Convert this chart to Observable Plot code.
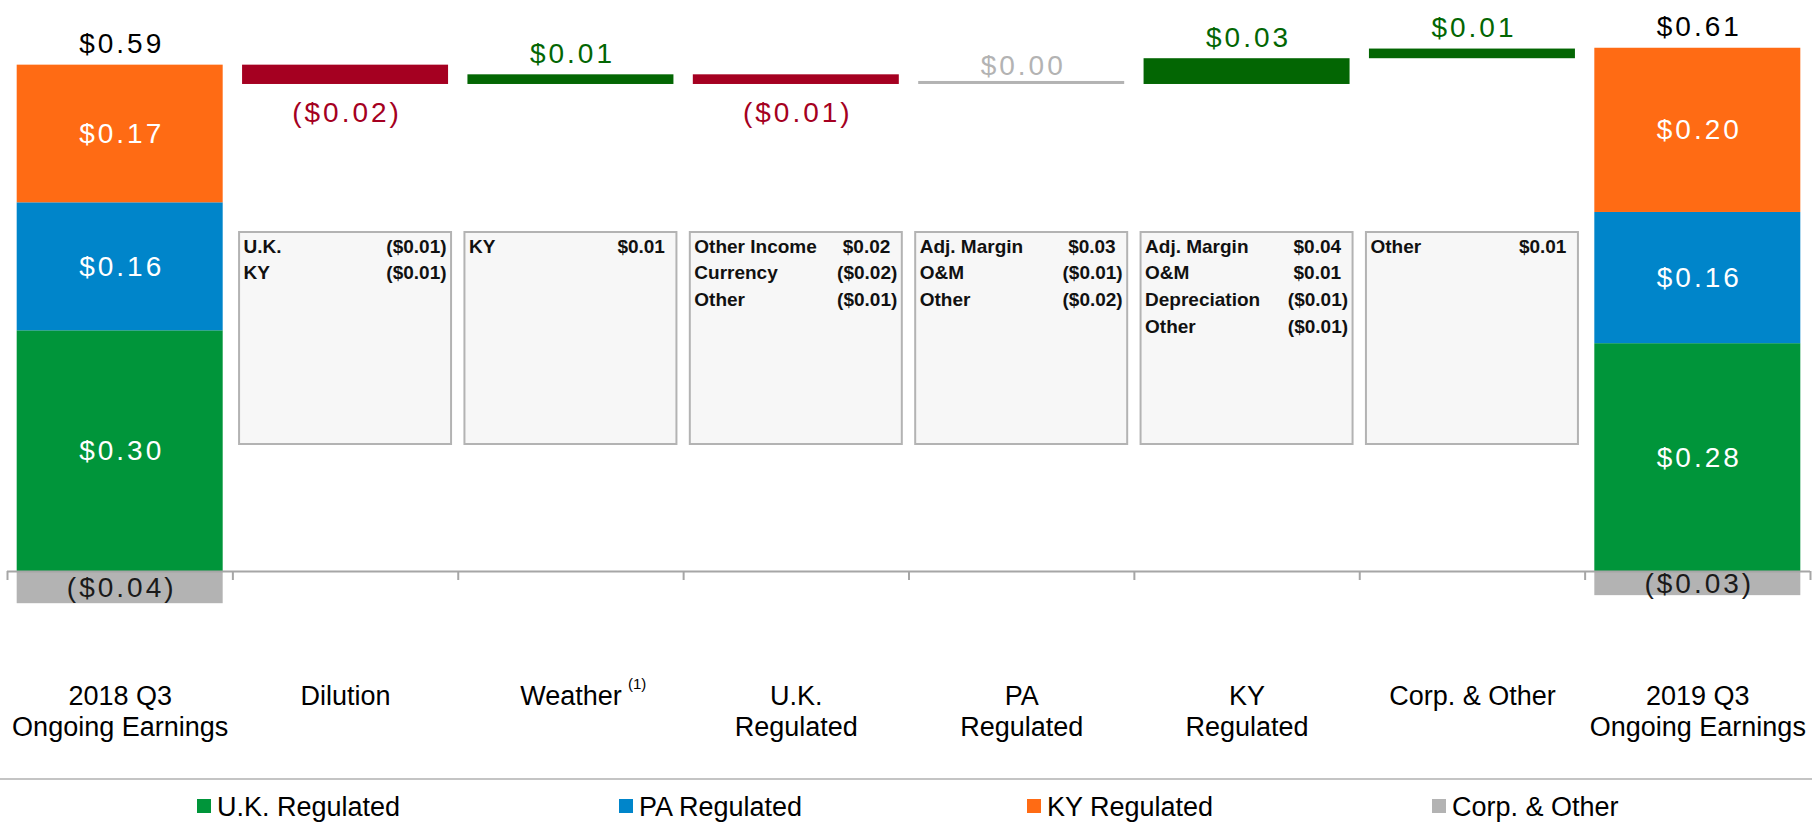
<!DOCTYPE html>
<html>
<head>
<meta charset="utf-8">
<script src="https://cdn.jsdelivr.net/npm/d3@7"></script>
<script src="https://cdn.jsdelivr.net/npm/@observablehq/plot@0.6"></script>
<style>
  html, body { margin: 0; padding: 0; background: #fff; }
  body { width: 1812px; height: 826px; overflow: hidden; font-family: "Liberation Sans", Arial, sans-serif; }
  #chart svg { display: block; }
  g[font-size="28"] text, g[font-size="28"] { letter-spacing: 3px; }
  #legend { box-sizing: border-box; height: 48px; border-top: 2px solid #C4C4C4; padding-top: 12px; padding-left: 197px; display: flex; font-size: 27px; line-height: 31px; color: #000; }
  #legend .item { display: flex; align-items: flex-start; white-space: nowrap; }
  #legend .sw { width: 14px; height: 14px; margin-top: 7px; margin-right: 6px; flex: none; }
</style>
</head>
<body>
<div id="chart"></div>
<div id="legend"></div>
<script>
// ---------- data ----------
const categories = ["2018 Q3 Ongoing Earnings", "Dilution", "Weather", "U.K. Regulated", "PA Regulated", "KY Regulated", "Corp. & Other", "2019 Q3 Ongoing Earnings"];
const tickLabels = ["2018 Q3\nOngoing Earnings", "Dilution", "Weather", "U.K.\nRegulated", "PA\nRegulated", "KY\nRegulated", "Corp. & Other", "2019 Q3\nOngoing Earnings"];
const segments = ["U.K. Regulated", "PA Regulated", "KY Regulated", "Corp. & Other"];
const segmentColors = ["#00953A", "#0085CA", "#FF6B14", "#B3B3B3"];
const start2018 = [0.299, 0.159, 0.171, -0.04];   // per segment
const end2019 = [0.283, 0.163, 0.204, -0.03];     // per segment
const totals = [0.59, 0.61];
const changeCategories = ["Dilution", "Weather", "U.K. Regulated", "PA Regulated", "KY Regulated", "Corp. & Other"];
const changes = [-0.024, 0.012, -0.012, 0.0, 0.032, 0.012];
const legendWidths = [422, 408, 405, 380];

const dilutionDetail = [["U.K.", -0.01], ["KY", -0.01]];
const weatherDetail = [["KY", 0.01]];
const ukDetail = [["Other Income", 0.02], ["Currency", -0.02], ["Other", -0.01]];
const paDetail = [["Adj. Margin", 0.03], ["O&M", -0.01], ["Other", -0.02]];
const kyDetail = [["Adj. Margin", 0.04], ["O&M", 0.01], ["Depreciation", -0.01], ["Other", -0.01]];
const corpDetail = [["Other", 0.01]];
const detailLists = [dilutionDetail, weatherDetail, ukDetail, paDetail, kyDetail, corpDetail];

// ---------- helpers ----------
const fmt = v => v < 0 ? `($${Math.abs(v).toFixed(2)})` : `$${Math.abs(v).toFixed(2)}`;

// stacked start/end bars
function stackRows(cat, vals) {
  let pos = 0, neg = 0;
  return vals.map((v, i) => {
    let y1, y2;
    if (v >= 0) { y1 = pos; y2 = pos + v; pos = y2; } else { y1 = neg; y2 = neg + v; neg = y2; }
    return {cat, series: segments[i], value: v, y1, y2};
  });
}
const startRows = stackRows(categories[0], start2018);
const endRows = stackRows(categories[7], end2019);
const stacked = startRows.concat(endRows);
const topOf = rows => d3.max(rows, d => d.y2);
const totalRows = [
  {cat: categories[0], top: topOf(startRows), value: totals[0]},
  {cat: categories[7], top: topOf(endRows), value: totals[1]}
];

// waterfall steps
let level = topOf(startRows);
const steps = changeCategories.map((cat, i) => {
  const y1 = level, y2 = level + changes[i];
  level = y2;
  return {cat, value: changes[i], y1, y2, top: Math.max(y1, y2), bottom: Math.min(y1, y2)};
});
const negSteps = steps.filter(d => d.value < 0);
const posSteps = steps.filter(d => d.value > 0);
const zeroSteps = steps.filter(d => d.value === 0);

// detail rows
const details = detailLists.flatMap((list, i) => list.map(([label, value], row) => ({cat: changeCategories[i], label, value, row})));

// ---------- layout ----------
const width = 1812, height = 778;
const marginLeft = 7, marginRight = 2, marginTop = 7.5, marginBottom = 126.5;
const step = (width - marginLeft - marginRight) / categories.length;
const font = "'Liberation Sans', Arial, sans-serif";

const detailMarks = [];
const maxRows = d3.max(details, d => d.row) + 1;
for (let r = 0; r < maxRows; r++) {
  const rows = details.filter(d => d.row === r);
  const dy = 244.5 + r * 26.8;
  detailMarks.push(
    Plot.text(rows, {x: "cat", text: "label", frameAnchor: "top", lineAnchor: "bottom", textAnchor: "start", dx: -102, dy, fontSize: 19, fontWeight: "bold", fill: "#111"}),
    Plot.text(rows.filter(d => d.value < 0), {x: "cat", text: d => fmt(d.value), frameAnchor: "top", lineAnchor: "bottom", textAnchor: "end", dx: 101, dy, fontSize: 19, fontWeight: "bold", fill: "#111"}),
    Plot.text(rows.filter(d => d.value >= 0), {x: "cat", text: d => fmt(d.value), frameAnchor: "top", lineAnchor: "bottom", textAnchor: "end", dx: 94, dy, fontSize: 19, fontWeight: "bold", fill: "#111"})
  );
}

const chart = Plot.plot({
  width, height, marginLeft, marginRight, marginTop, marginBottom,
  style: {fontFamily: font, background: "#fff", color: "#000"},
  x: {domain: categories, paddingInner: 0.086, paddingOuter: 0.043, round: false, label: null, axis: null},
  y: {domain: [-0.1, 0.7], axis: null},
  color: {domain: segments, range: segmentColors},
  marks: [
    // breakdown boxes
    Plot.cell(changeCategories, {x: d => d, fill: "#F7F7F7", stroke: "#B3B3B3", strokeWidth: 2, insetTop: 224.5, insetBottom: 207.5, insetLeft: -3, insetRight: -3}),
    ...detailMarks,
    // stacked bars
    Plot.barY(stacked, {x: "cat", y1: "y1", y2: "y2", fill: "series"}),
    // waterfall steps
    Plot.barY(negSteps, {x: "cat", y1: "y1", y2: "y2", fill: "#A50021"}),
    Plot.barY(posSteps, {x: "cat", y1: "y1", y2: "y2", fill: "#036603"}),
    Plot.barY(zeroSteps, {x: "cat", y1: "y1", y2: "y2", fill: "#B3B3B3", insetTop: -3}),
    // axis line and ticks
    Plot.ruleY([0], {stroke: "#A6A6A6", strokeWidth: 2}),
    Plot.ruleX(categories, {x: d => d, y1: 0, y2: 0, insetBottom: -9, dx: -step / 2, stroke: "#A6A6A6", strokeWidth: 2}),
    Plot.ruleX(categories.slice(-1), {x: d => d, y1: 0, y2: 0, insetBottom: -9, dx: step / 2, stroke: "#A6A6A6", strokeWidth: 2}),
    // segment labels
    Plot.text(stacked.filter(d => d.value >= 0), {x: "cat", y: d => (d.y1 + d.y2) / 2, text: d => fmt(d.value), fill: "#fff", fontSize: 28, lineAnchor: "middle", dx: 1.5}),
    Plot.text(stacked.filter(d => d.value < 0), {x: "cat", y: d => (d.y1 + d.y2) / 2, text: d => fmt(d.value), fill: "#1a1a1a", fontSize: 28, lineAnchor: "middle", dx: 1.5}),
    // totals
    Plot.text(totalRows, {x: "cat", y: "top", text: d => fmt(d.value), fill: "#000", fontSize: 28, lineAnchor: "bottom", dy: -12, dx: 1.5}),
    // change labels
    Plot.text(posSteps, {x: "cat", y: "top", text: d => fmt(d.value), fill: "#036603", fontSize: 28, lineAnchor: "bottom", dy: -12, dx: 1.5}),
    Plot.text(zeroSteps, {x: "cat", y: "top", text: d => fmt(d.value), fill: "#B3B3B3", fontSize: 28, lineAnchor: "bottom", dy: -9, dx: 1.5}),
    Plot.text(negSteps, {x: "cat", y: "bottom", text: d => fmt(d.value), fill: "#A50021", fontSize: 28, lineAnchor: "top", dy: 18, dx: 1.5}),
    // category axis
    Plot.axisX({anchor: "bottom", tickSize: 0, tickPadding: 31.3, fontSize: 27, lineHeight: 1.15, tickFormat: d => tickLabels[categories.indexOf(d)], label: null, fill: "#000"}),
    Plot.text(["Weather"], {x: d => d, text: () => "(1)", frameAnchor: "bottom", lineAnchor: "bottom", textAnchor: "start", dx: 57, dy: 36.5, fontSize: 15, fill: "#000"})
  ]
});
document.getElementById("chart").appendChild(chart);

// legend
const legend = d3.select("#legend");
segments.forEach((s, i) => {
  const item = legend.append("div").attr("class", "item").style("width", legendWidths[i] + "px");
  item.append("span").attr("class", "sw").style("background", segmentColors[i]);
  item.append("span").text(s);
});
</script>
</body>
</html>
